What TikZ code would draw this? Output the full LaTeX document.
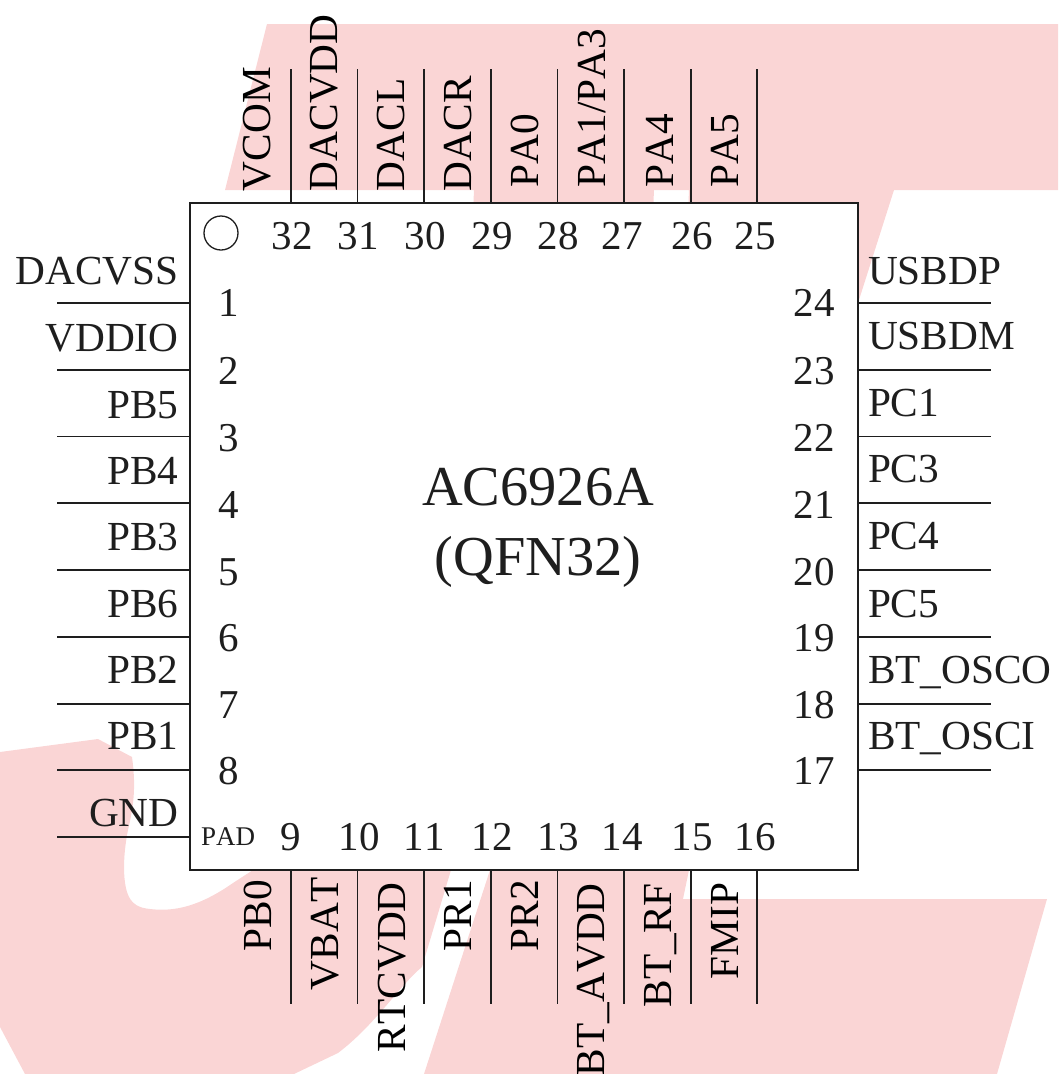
\documentclass[tikz,border=0pt]{standalone}
\usepackage{fontspec}
\setmainfont[Kerning=Off]{Liberation Serif}
\definecolor{wm}{HTML}{FAD5D5}
\definecolor{ink}{HTML}{1E1E1E}
\tikzset{
  wmark/.style={fill=wm,draw=none},
  chipbox/.style={draw=ink,fill=white,line width=1.9pt,minimum width=668pt,minimum height=667pt,inner sep=0pt,outer sep=0pt},
  pinline/.style={draw=ink,line width=1.9pt},
  lab/.style={text=ink,inner sep=0pt,outer sep=0pt,font=\fontsize{41.3}{41.3}\selectfont},
  labL/.style={lab,anchor=base east},
  labR/.style={lab,anchor=base west},
  labV/.style={lab,text=black,anchor=base west,rotate=90},
  num/.style={text=ink,inner sep=0pt,outer sep=0pt,anchor=base,font=\fontsize{41}{41}\selectfont},
  padlab/.style={text=ink,inner sep=0pt,outer sep=0pt,anchor=base west,font=\fontsize{27}{27}\selectfont},
  title/.style={text=ink,inner sep=0pt,outer sep=0pt,anchor=base,font=\fontsize{56.4}{56.4}\selectfont},
  dotmark/.style={circle,draw=ink,line width=1.3pt,minimum size=34pt,inner sep=0pt}
}
\begin{document}
\begin{tikzpicture}[x=1pt,y=-1pt]
\useasboundingbox (0,0) rectangle (1058,1074);
% watermark
\fill[wmark] (267,24) -- (1058,24) -- (1058,190) -- (894,190) -- (858,303) -- (686,260) -- (689,190) -- (654,190) -- (651,260) -- (471,260) -- (474,190) -- (225,190) -- cycle;
\fill[wmark] (490,870) -- (689,870) -- (683,899) -- (1047,899) -- (997,1074) -- (424,1074) -- cycle;
\fill[wmark] (0,752) -- (98,739) -- (132,757) .. controls (136,785) and (134,805) .. (128,830)
  .. controls (124,850) and (122,875) .. (127,892) .. controls (131,905) and (140,908) .. (150,909)
  .. controls (175,912) and (200,906) .. (233,883) -- (253,870) -- (451,870) -- (422,967)
  .. controls (400,985) and (375,1025) .. (338,1053) -- (294,1074) -- (25,1074) -- (0,1027) -- cycle;
% chip
\node[chipbox] (chip) at (524,536.5) {};
\node[dotmark] (dot) at (221,233) {};
\node[title] (t1) at (538,505) {AC6926A};
\node[title] (t2) at (538,575) {(QFN32)};
% left and right pins
\foreach \n/\y in {a/303,b/370,c/436.5,d/503,e/570,f/637,g/704,h/770,i/837}{
  \coordinate (L\n) at (57,\y);
  \coordinate (Lc\n) at (chip.west |- 0,\y);
  \draw[pinline] (L\n) -- (Lc\n);
}
\foreach \n/\y in {a/303,b/370,c/436.5,d/503,e/570,f/637,g/704,h/770}{
  \coordinate (R\n) at (991,\y);
  \coordinate (Rc\n) at (chip.east |- 0,\y);
  \draw[pinline] (Rc\n) -- (R\n);
}
% top and bottom pins
\foreach \n/\x in {a/291,b/357.5,c/424,d/491,e/557.5,f/624,g/691,h/757}{
  \coordinate (T\n) at (\x,69);
  \coordinate (Tc\n) at (\x,0 |- chip.north);
  \draw[pinline] (T\n) -- (Tc\n);
  \coordinate (B\n) at (\x,1004);
  \coordinate (Bc\n) at (\x,0 |- chip.south);
  \draw[pinline] (Bc\n) -- (B\n);
}
% left labels
\foreach \t/\y [count=\k] in {DACVSS/284,VDDIO/351,PB5/418,PB4/484,PB3/550,PB6/617,PB2/683,PB1/749,GND/826}
  \node[labL] (ll\k) at (178.5,\y) {\t};
% right labels
\foreach \t/\y [count=\k] in {USBDP/284,USBDM/349,PC1/416,PC3/482,PC4/549,PC5/617,BT\_OSCO/683,BT\_OSCI/749}
  \node[labR] (rl\k) at (868,\y) {\t};
% top labels
\foreach \t/\x/\y [count=\k] in {VCOM/270/191,DACVDD/337/191,DACL/404/191,DACR/471/191,PA0/538/187,{PA1/PA3}/605/187,PA4/673/187,PA5/738/187}
  \node[labV] (tl\k) at (\x,\y) {\t};
% bottom labels
\foreach \t/\x/\y [count=\k] in {PB0/271/951,VBAT/338/990,RTCVDD/405/1052,PR1/471/951,PR2/538/951,BT\_AVDD/604/1076,BT\_RF/671/1007,FMIP/738/979}
  \node[labV] (bl\k) at (\x,\y) {\t};
% pin numbers
\foreach \t/\y in {1/316,2/384,3/451,4/518,5/585,6/651,7/718,8/784}
  \node[num] (n\t) at (229,\y) {\t};
\foreach \t/\y in {24/316,23/384,22/451,21/518,20/585,19/651,18/718,17/784}
  \node[num] (n\t) at (814,\y) {\t};
\foreach \t/\x in {32/292,31/358,30/425,29/492,28/558,27/622,26/692,25/755}
  \node[num] (n\t) at (\x,249) {\t};
\foreach \t/\x in {9/291,10/359,11/424,12/492,13/558,14/622,15/692,16/755}
  \node[num] (n\t) at (\x,850) {\t};
\node[padlab] (pad) at (201,845) {PAD};
\end{tikzpicture}
\end{document}
